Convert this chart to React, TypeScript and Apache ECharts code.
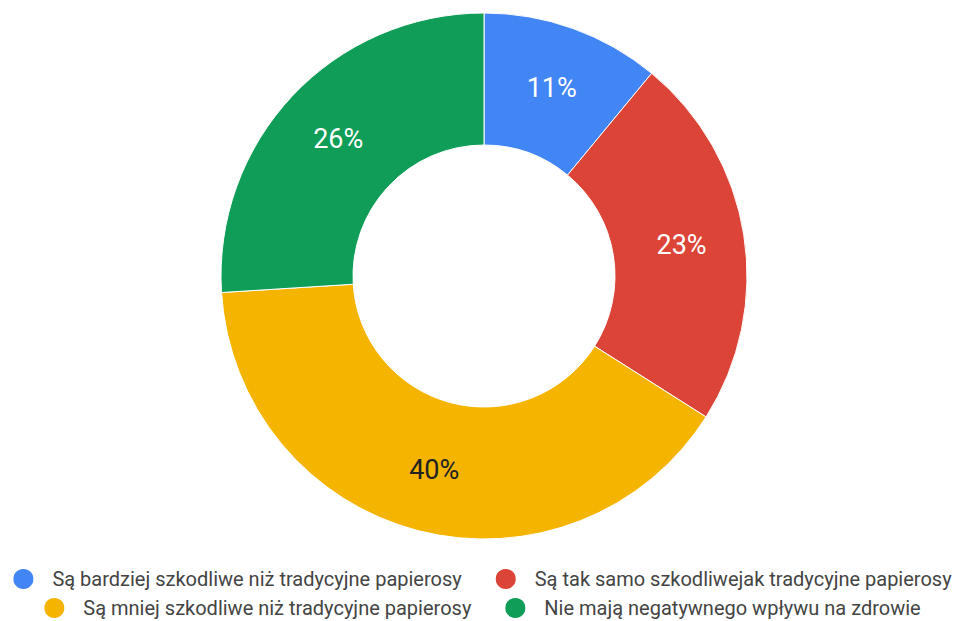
import React, { useEffect, useRef } from "react";
import * as echarts from "echarts";

const categories = [
  "Są bardziej szkodliwe niż tradycyjne papierosy",
  "Są tak samo szkodliwejak tradycyjne papierosy",
  "Są mniej szkodliwe niż tradycyjne papierosy",
  "Nie mają negatywnego wpływu na zdrowie",
];
const values = [11, 23, 40, 26];
const colors = ["#4285F4", "#DB4437", "#F4B400", "#0F9D58"];
const labelColors = ["#ffffff", "#ffffff", "#222222", "#ffffff"];

export default function App() {
  const ref = useRef<HTMLDivElement>(null);
  useEffect(() => {
    if (!ref.current) return;
    const chart = echarts.init(ref.current, null, { renderer: "svg" });
    const legendBase = {
      orient: "horizontal" as const,
      left: "center",
      icon: "circle",
      itemWidth: 22,
      itemHeight: 22,
      itemGap: 32,
      textStyle: {
        fontFamily: "Roboto",
        fontSize: 20,
        color: "#444444",
        padding: [0, 0, 0, 13],
      },
    };
    chart.setOption({
      animation: false,
      backgroundColor: "#ffffff",
      legend: [
        { ...legendBase, top: 562, data: [categories[0], categories[1]] },
        { ...legendBase, top: 591, data: [categories[2], categories[3]] },
      ],
      series: [
        {
          type: "pie",
          center: [484, 276],
          radius: [131, 263],
          startAngle: 90,
          clockwise: true,
          avoidLabelOverlap: false,
          itemStyle: { borderColor: "#ffffff", borderWidth: 1 },
          label: {
            show: true,
            position: "inside",
            formatter: "{d}%",
            fontFamily: "Roboto",
            fontSize: 27,
          },
          labelLine: { show: false },
          emphasis: { disabled: true },
          data: categories.map((name, i) => ({
            name,
            value: values[i],
            itemStyle: { color: colors[i] },
            label: { color: labelColors[i] },
          })),
        },
      ],
    });
    return () => chart.dispose();
  }, []);
  return (
    <div
      ref={ref}
      style={{ position: "fixed", left: 0, top: 0, width: 963, height: 621 }}
    />
  );
}
